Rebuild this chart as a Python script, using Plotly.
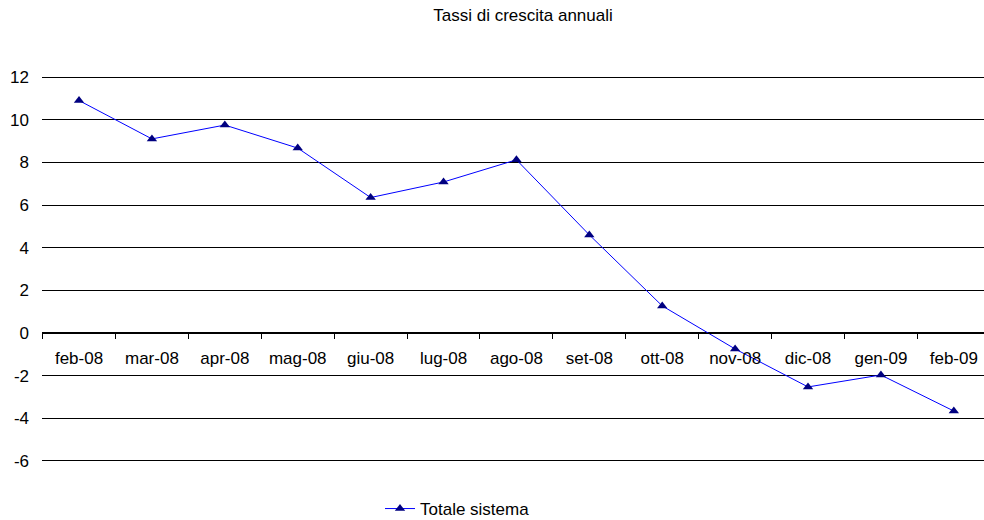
import plotly.graph_objects as go

categories = ["feb-08", "mar-08", "apr-08", "mag-08", "giu-08", "lug-08", "ago-08",
              "set-08", "ott-08", "nov-08", "dic-08", "gen-09", "feb-09"]
values = [10.9, 9.1, 9.75, 8.67, 6.35, 7.08, 8.12, 4.6, 1.27, -0.75, -2.53, -1.97, -3.66]
y_ticks = [-6, -4, -2, 0, 2, 4, 6, 8, 10, 12]
y_tick_labels = ["-6", "-4", "-2", "0", "2", "4", "6", "8", "10", "12"]
series_name = "Totale sistema"
title_text = "Tassi di crescita annuali"

FS = 17
fig = go.Figure()
fig.add_trace(go.Scatter(
    x=categories, y=values, mode="lines+markers", name=series_name,
    line=dict(color="#0000FF", width=1),
    marker=dict(symbol="triangle-up", size=9, color="#000080"),
))

font = dict(family="Liberation Sans, Arial, sans-serif", size=FS, color="#000000")

fig.update_layout(
    width=984, height=520,
    margin=dict(l=42, r=0, t=76, b=58, autoexpand=False),
    paper_bgcolor="white", plot_bgcolor="white",
    font=font,
    title=dict(text=title_text, x=523/984, xanchor="center", xref="container",
               y=1 - 15/520, yref="container", yanchor="middle",
               font=dict(family="Liberation Sans, Arial, sans-serif", size=FS, color="#000")),
    showlegend=True,
    legend=dict(orientation="h", xref="container", yref="container",
                x=380/984, xanchor="left", y=(520-491)/520, yanchor="top",
                font=dict(size=FS), bgcolor="rgba(0,0,0,0)"),
    xaxis=dict(type="category", range=[-0.508, 12.414], anchor="free", position=1/3,
               showline=True, linecolor="#000", linewidth=1,
               ticks="outside", tickson="boundaries", ticklen=5, tickcolor="#000",
               ticklabelstandoff=9,
               showgrid=False, zeroline=False, tickfont=font),
    yaxis=dict(range=[-6.05, 12.05], tickvals=y_ticks, ticktext=y_tick_labels,
               showgrid=True, gridcolor="#000",
               gridwidth=1, zeroline=False, showline=False, ticks="",
               ticklabelstandoff=12, tickfont=font),
)

fig.write_html("out.html", config={"displayModeBar": False},
               post_script="document.body.style.margin='0';document.body.style.overflow='hidden';")
